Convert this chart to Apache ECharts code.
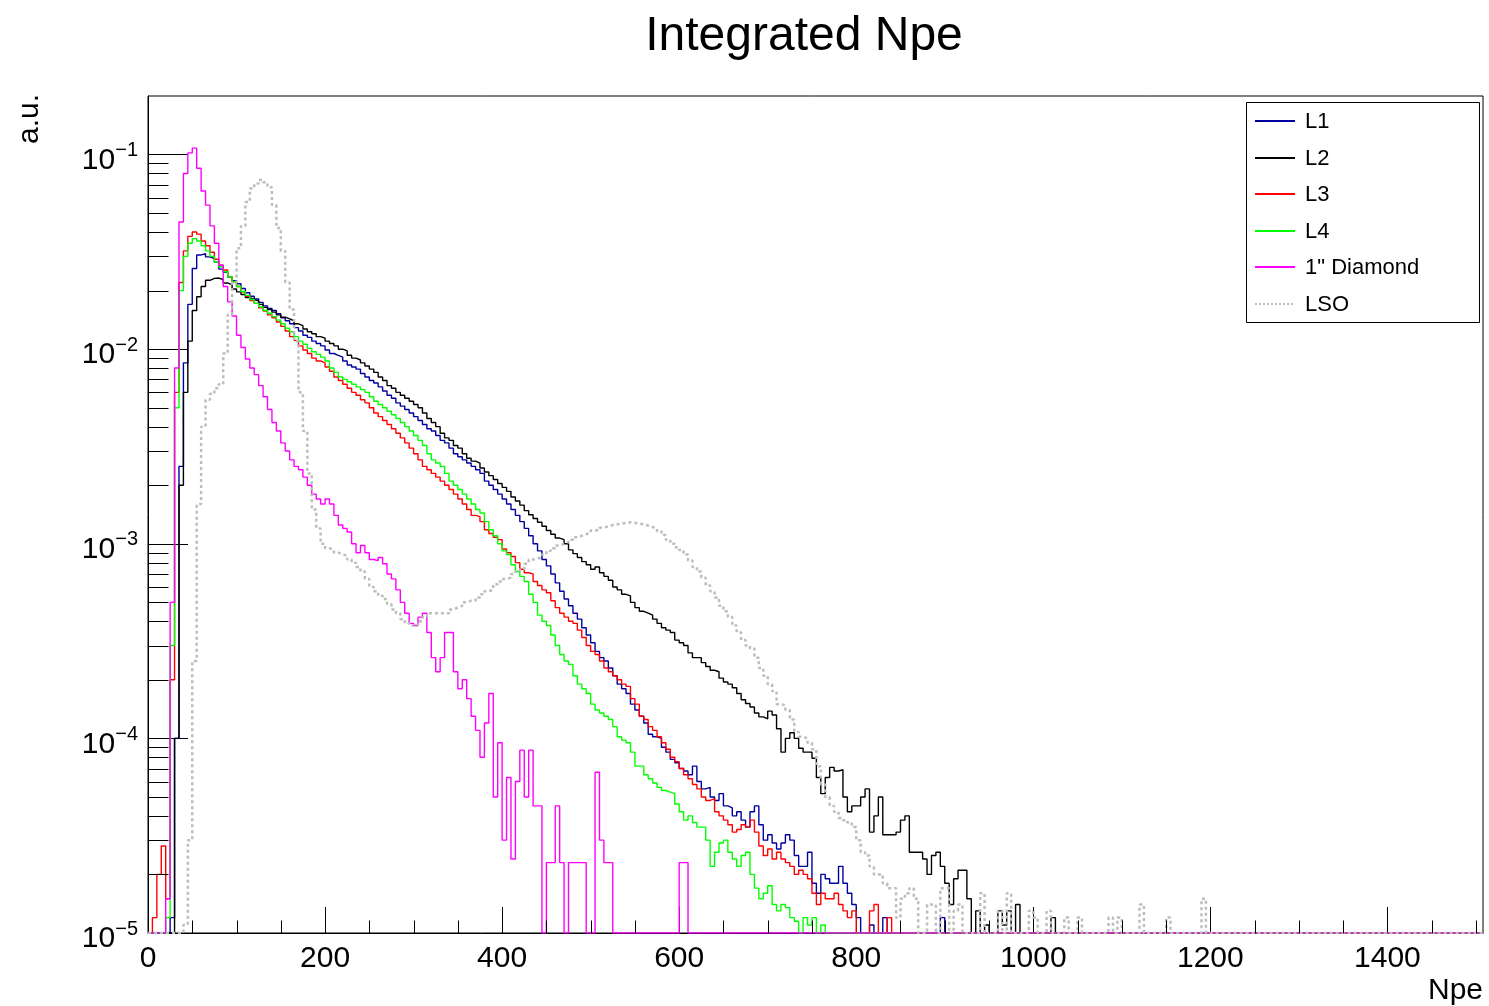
<!DOCTYPE html>
<html>
<head>
<meta charset="utf-8">
<script src="https://cdn.jsdelivr.net/npm/echarts@6.0.0/dist/echarts.min.js"></script>
<style>html,body{margin:0;padding:0;background:#fff}#chart{width:1489px;height:1006px}</style>
</head>
<body>
<div id="chart"></div>
<script>
// ---------------- data (histograms, 5 Npe per bin, first bin starts at Npe 0) ----------------
const BIN = 5;
const X_MIN = 0, X_MAX = 1508;
const Y_MIN = 1e-5, Y_MAX = 0.2;
const xTickLabels = [0, 200, 400, 600, 800, 1000, 1200, 1400];
const titleText = 'Integrated Npe';
const xTitle = 'Npe';
const yTitle = 'a.u.';
const seriesNames = ['L1', 'L2', 'L3', 'L4', '1" Diamond', 'LSO'];

const L1 = [
0,0,0,0,0,1.2e-5,1e-4,2.5e-3,8.5e-3,0.017,
0.026,0.0305,0.031,0.0298,0.0292,0.028,0.0258,0.0248,0.0235,0.0225,
0.0217,0.0205,0.0195,0.0187,0.0181,0.0174,0.0167,0.0162,0.0158,0.0152,
0.0145,0.014,0.0135,0.0129,0.0124,0.0118,0.0115,0.011,0.0107,0.0104,
0.0099,0.0095,0.0093,0.0091,0.0087,0.0083,0.0081,0.0079,0.0075,0.0072,
0.0069,0.0067,0.0064,0.0061,0.0058,0.0056,0.0053,0.0051,0.0049,0.0047,
0.0045,0.0043,0.0041,0.0039,0.0038,0.0036,0.0034,0.0033,0.0031,0.0029,
0.0028,0.0027,0.0026,0.0025,0.0024,0.0023,0.0021,0.0020,0.0019,0.0018,
0.0017,0.0016,0.0015,0.0014,0.0013,0.0012,0.0011,0.00100,0.00092,0.00083,
0.00077,0.00070,0.00063,0.00057,0.00052,0.00048,0.00044,0.00041,0.00037,0.00034,
0.00031,0.00028,0.00026,0.00025,0.00023,0.00021,0.00019,0.00018,0.00017,0.00015,
0.00014,0.00013,0.00012,0.000105,0.000102,0.0001,9.0e-5,8.5e-5,7.8e-5,7.5e-5,
7.0e-5,6.8e-5,6.5e-5,7.2e-5,6.0e-5,5.5e-5,5.6e-5,5.0e-5,4.8e-5,5.2e-5,
4.5e-5,4.4e-5,4.0e-5,4.2e-5,3.8e-5,3.5e-5,4.2e-5,4.5e-5,3.6e-5,3.0e-5,
3.2e-5,2.9e-5,2.7e-5,2.9e-5,3.2e-5,3.0e-5,2.5e-5,2.2e-5,2.2e-5,2.6e-5,
1.8e-5,1.6e-5,2.0e-5,1.9e-5,1.8e-5,1.8e-5,2.2e-5,1.8e-5,1.6e-5,1.4e-5,
1.2e-5,0,0,1.1e-5,0,0,1.2e-5,0,0,0,
0,0,0,0,0,0,0,0,0,1.2e-5
];

const L2 = [
0,0,0,0,0,0,1.0e-4,2.0e-3,6.0e-3,0.011,
0.0158,0.0186,0.021,0.0226,0.0231,0.0232,0.0228,0.0219,0.0214,0.0204,
0.0197,0.0191,0.0184,0.018,0.0177,0.017,0.0164,0.016,0.0155,0.015,
0.0146,0.0143,0.014,0.0135,0.0132,0.0127,0.0123,0.012,0.0116,0.0114,
0.011,0.0107,0.0104,0.0100,0.0098,0.0093,0.009,0.0088,0.0085,0.0082,
0.0079,0.0076,0.0072,0.0069,0.0065,0.0063,0.006,0.0058,0.0056,0.0054,
0.0052,0.0050,0.0047,0.0044,0.0042,0.0040,0.0037,0.0035,0.0034,0.0032,
0.0031,0.0029,0.00275,0.00266,0.0026,0.00245,0.00234,0.00224,0.00214,0.00204,
0.00195,0.00186,0.00174,0.00166,0.00158,0.00148,0.00141,0.00135,0.00129,0.00123,
0.00117,0.00112,0.00107,0.00105,0.001,0.00093,0.00089,0.00085,0.00081,0.00078,
0.00074,0.00076,0.00071,0.00068,0.00065,0.0006,0.00058,0.00055,0.00054,0.0005,
0.00047,0.00045,0.00044,0.00043,0.00041,0.00039,0.00037,0.00036,0.00035,0.00032,
0.00031,0.0003,0.000275,0.00026,0.00026,0.000245,0.000234,0.000224,0.00022,0.000204,
0.000195,0.00019,0.000182,0.00017,0.000158,0.000151,0.000145,0.000135,0.000129,0.000126,
0.000138,0.000132,0.000112,8.5e-5,1.0e-4,1.07e-4,1.0e-4,8.9e-5,8.5e-5,8.5e-5,
7.9e-5,6.3e-5,5.2e-5,6.3e-5,7.1e-5,6.8e-5,6.9e-5,5.0e-5,4.2e-5,4.5e-5,
4.5e-5,5.0e-5,5.5e-5,3.3e-5,4.0e-5,5.0e-5,3.2e-5,3.2e-5,3.2e-5,3.3e-5,
3.8e-5,4.0e-5,2.6e-5,2.6e-5,2.6e-5,2.4e-5,2.0e-5,2.5e-5,2.6e-5,2.2e-5,
1.8e-5,1.4e-5,1.9e-5,2.1e-5,2.1e-5,1.5e-5,0,1.3e-5,0,1.1e-5,
0,0,1.3e-5,1.1e-5,1.3e-5,0,1.4e-5,0,0,0,
0,0,0,0,1.2e-5
];

const L3 = [
0,1.2e-5,2.0e-5,2.8e-5,1.5e-5,2.0e-4,6.0e-3,0.022,0.032,0.038,
0.040,0.039,0.036,0.034,0.0315,0.029,0.027,0.0255,0.0235,0.0222,
0.021,0.0197,0.0187,0.0178,0.0172,0.0163,0.0157,0.015,0.0145,0.0138,
0.0131,0.0124,0.0116,0.0111,0.0104,0.0099,0.0095,0.009,0.0087,0.0085,
0.0081,0.0077,0.0072,0.0069,0.0066,0.0063,0.006,0.0058,0.0055,0.0053,
0.005,0.0047,0.0045,0.0043,0.0041,0.0039,0.0037,0.0035,0.0033,0.0031,
0.0029,0.0027,0.0025,0.0024,0.0023,0.0022,0.0021,0.002,0.0019,0.0018,
0.0017,0.0016,0.0015,0.0014,0.00138,0.0013,0.00118,0.00113,0.00108,0.00105,
0.00094,0.0009,0.00086,0.0008,0.00074,0.00071,0.0007,0.00064,0.00061,0.00058,
0.00056,0.00051,0.00047,0.00044,0.00042,0.0004,0.00039,0.00036,0.00033,0.0003,
0.00028,0.00027,0.00025,0.00023,0.00022,0.00021,0.0002,0.00019,0.000185,0.00016,
0.00015,0.00013,0.000125,0.000115,0.00011,0.000102,9.5e-5,8.8e-5,8.0e-5,7.6e-5,
7.0e-5,6.5e-5,6.2e-5,5.8e-5,5.5e-5,5.0e-5,4.8e-5,4.9e-5,4.2e-5,4.0e-5,
3.8e-5,3.6e-5,3.3e-5,3.4e-5,3.6e-5,3.5e-5,3.8e-5,3.3e-5,2.8e-5,2.5e-5,
2.7e-5,2.4e-5,2.6e-5,2.4e-5,2.3e-5,2.2e-5,2.0e-5,2.1e-5,2.0e-5,1.9e-5,
1.6e-5,1.4e-5,1.6e-5,1.5e-5,1.5e-5,1.6e-5,1.4e-5,1.3e-5,1.2e-5,1.3e-5,
0,0,0,1.3e-5,1.4e-5,0,0,1.2e-5
];

const L4 = [
0,0,0,0,1.2e-5,3.0e-4,5.0e-3,0.02,0.03,0.035,
0.037,0.036,0.034,0.032,0.030,0.028,0.0265,0.025,0.0235,0.0222,
0.021,0.0198,0.0189,0.018,0.0172,0.0165,0.0158,0.0153,0.0147,0.0141,
0.0135,0.0128,0.0123,0.0116,0.011,0.0106,0.0101,0.0097,0.0094,0.0091,
0.0087,0.008,0.0076,0.0072,0.007,0.0068,0.0066,0.0064,0.0062,0.006,
0.0057,0.0054,0.0052,0.005,0.0048,0.0046,0.0044,0.0042,0.004,0.0038,
0.0036,0.0034,0.0032,0.0029,0.0027,0.0026,0.0025,0.0023,0.0021,0.002,
0.0019,0.0018,0.0017,0.0016,0.0015,0.00144,0.0013,0.00118,0.0011,0.001,
0.00092,0.00088,0.00078,0.00072,0.00068,0.00064,0.00055,0.0005,0.00043,0.0004,
0.00038,0.00034,0.0003,0.00027,0.00025,0.00024,0.00021,0.00019,0.00018,0.00017,
0.00015,0.00014,0.000135,0.00013,0.000125,0.000115,0.000102,9.8e-5,9.5e-5,8.5e-5,
7.2e-5,7.2e-5,6.5e-5,6.2e-5,5.9e-5,5.6e-5,5.4e-5,5.3e-5,5.2e-5,4.6e-5,
4.2e-5,3.8e-5,4.0e-5,3.7e-5,3.5e-5,3.5e-5,3.0e-5,2.2e-5,2.6e-5,2.9e-5,
3.0e-5,2.6e-5,2.4e-5,2.2e-5,2.5e-5,2.6e-5,2.0e-5,1.7e-5,1.5e-5,1.6e-5,
1.75e-5,1.4e-5,1.3e-5,1.4e-5,1.35e-5,1.2e-5,1.15e-5,0,1.2e-5,1.1e-5,
1.2e-5,0,1.1e-5
];

const Diamond = [
0,0,0,0,1.5e-5,5.0e-4,8.0e-3,0.045,0.08,0.102,
0.108,0.085,0.065,0.055,0.043,0.035,0.027,0.021,0.0175,0.0148,
0.0118,0.0102,0.0089,0.008,0.0074,0.0065,0.0057,0.0049,0.0042,0.0038,
0.0033,0.003,0.0027,0.0025,0.0024,0.0022,0.002,0.0018,0.0017,0.0016,
0.0017,0.0016,0.0014,0.00125,0.0012,0.00115,0.001,0.0009,0.00098,0.0009,
0.00083,0.00082,0.00085,0.00079,0.0007,0.00066,0.00058,0.0005,0.00044,0.00039,
0.00038,0.00042,0.00044,0.00035,0.00026,0.00022,0.00026,0.00035,0.00035,0.00022,
0.00018,0.0002,0.00016,0.00013,0.00011,8e-5,0.00012,0.00017,5e-5,9.5e-5,
3e-5,6.3e-5,2.4e-5,6e-5,8.7e-5,5e-5,8.7e-5,4.5e-5,4.5e-5,0,
2.3e-5,2.3e-5,4.5e-5,2.3e-5,0,2.3e-5,2.3e-5,2.3e-5,2.3e-5,0,
0,6.7e-5,3e-5,2.3e-5,2.3e-5,0,0,0,0,0,
0,0,0,0,0,0,0,0,0,0,
2.3e-5,2.3e-5
];

const LSO = [
0,0,0,0,0,0,0,0,1.1e-5,3.0e-5,
2.5e-4,1.6e-3,4.0e-3,5.5e-3,5.9e-3,6.3e-3,6.6e-3,0.0095,0.015,0.022,
0.033,0.043,0.057,0.067,0.071,0.074,0.072,0.068,0.055,0.042,
0.032,0.022,0.016,0.011,0.006,0.0038,0.0023,0.0015,0.0012,0.001,
0.00095,0.00093,0.0009,0.00088,0.00087,0.00083,0.0008,0.00076,0.00072,0.00066,
0.0006,0.00057,0.00054,0.00052,0.00049,0.00046,0.00044,0.00041,0.00039,0.00038,
0.00038,0.0004,0.00042,0.00044,0.00044,0.00044,0.00044,0.00044,0.00046,0.00047,
0.00048,0.0005,0.00051,0.00051,0.00053,0.00055,0.00057,0.00058,0.00062,0.00064,
0.00066,0.00067,0.0007,0.00072,0.00074,0.00079,0.00083,0.00084,0.00085,0.00088,
0.00092,0.00095,0.00098,0.001,0.00102,0.00105,0.00108,0.0011,0.00112,0.00114,
0.00117,0.00118,0.00121,0.00123,0.00125,0.00126,0.00127,0.00128,0.00129,0.00128,
0.00127,0.00126,0.00124,0.00122,0.0012,0.00116,0.00111,0.00105,0.001,0.00096,
0.00093,0.00088,0.00082,0.00076,0.00072,0.00067,0.00061,0.00057,0.00053,0.00048,
0.00045,0.00042,0.00038,0.00035,0.00032,0.0003,0.00029,0.00026,0.00023,0.00021,
0.00019,0.000175,0.00015,0.000148,0.00014,0.000125,0.000108,0.000102,0.0001,9.5e-5,
8.8e-5,7.2e-5,5.8e-5,5.0e-5,4.5e-5,4.2e-5,3.9e-5,3.8e-5,3.7e-5,3.5e-5,
3.0e-5,2.6e-5,2.5e-5,2.2e-5,2.0e-5,2.0e-5,1.8e-5,1.7e-5,1.7e-5,1.2e-5,
1.5e-5,1.6e-5,1.7e-5,1.5e-5,0,0,1.4e-5,1.4e-5,0,1.7e-5,
1.7e-5,0,1.3e-5,1.4e-5,0,0,0,0,1.6e-5,0,
0,0,1.3e-5,0,1.6e-5,0,0,0,0,1.3e-5,
1.2e-5,0,0,1.3e-5,0,0,0,1.2e-5,0,0,
1.2e-5,0,0,0,0,0,0,1.2e-5,0,1.2e-5,
0,0,0,0,1.4e-5,0,0,0,0,0,
1.2e-5,0,0,0,0,0,0,0,1.5e-5
];

// ---------------- styling ----------------
const FONT = '"Liberation Sans", Arial, Helvetica, sans-serif';
const seriesColors = ['#0000a0', '#000000', '#ff0000', '#00ff00', '#ff00ff', '#bdbdbd'];
const seriesData = [L1, L2, L3, L4, Diamond, LSO];

// histogram -> step polyline points (empty bins sit on the lower frame like ROOT)
function histPoints(arr) {
  const pts = arr.map((v, i) => [i * BIN, v > 0 ? v : Y_MIN]);
  pts.push([arr.length * BIN, Y_MIN]);
  pts.push([X_MAX, Y_MIN]);
  return pts;
}

// minor ticks positions (axis decoration)
const xMinor = [];
for (let v = 50; v < X_MAX; v += 50) if (v % 200 !== 0) xMinor.push([v, Y_MIN]);
const yMinor = [];
for (let e = -5; e <= -2; e++) for (let k = 2; k <= 9; k++) yMinor.push([X_MIN, k * Math.pow(10, e)]);

const lineSeries = seriesNames.map((name, idx) => ({
  name: name,
  type: 'line',
  step: 'end',
  data: histPoints(seriesData[idx]),
  symbol: 'none',
  showSymbol: false,
  clip: true,
  z: 2 + idx,
  lineStyle: idx === 5
    ? { color: seriesColors[idx], width: 2.5, type: [3, 3] }
    : { color: seriesColors[idx], width: 1.4 },
  emphasis: { disabled: true },
  silent: true
}));

function tickRenderer(dx, dy) {
  return function (params, api) {
    const p = api.coord([api.value(0), api.value(1)]);
    const x = Math.round(p[0]) + 0.5, y = Math.round(p[1]) + 0.5;
    return {
      type: 'line',
      shape: { x1: x, y1: y, x2: x + dx, y2: y + dy },
      style: { stroke: '#000', lineWidth: 1 }
    };
  };
}

const chart = echarts.init(document.getElementById('chart'), null, { renderer: 'canvas' });

// legend drawn as in ROOT's TLegend
const legendX = 1246, legendY = 102, legendW = 233, legendH = 220;
const legendElems = [{
  type: 'rect', shape: { x: legendX + 0.5, y: legendY + 0.5, width: legendW, height: legendH },
  style: { fill: '#fff', stroke: '#000', lineWidth: 1 }, z: 100
}];
seriesNames.forEach((name, i) => {
  const cy = legendY + 19 + i * 36.6;
  legendElems.push({
    type: 'line', shape: { x1: legendX + 9, y1: Math.round(cy), x2: legendX + 49, y2: Math.round(cy) },
    style: i === 5
      ? { stroke: seriesColors[i], lineWidth: 2, lineDash: [2, 2], fill: null }
      : { stroke: seriesColors[i], lineWidth: 2, fill: null },
    z: 101
  });
  legendElems.push({
    type: 'text', x: legendX + 59, y: cy + 1,
    style: { text: name, fill: '#000', font: '22px ' + FONT, textAlign: 'left', textVerticalAlign: 'middle' },
    z: 101
  });
});

const option = {
  animation: false,
  backgroundColor: '#ffffff',
  grid: { left: 148, right: 6, top: 96, bottom: 73, show: true, borderColor: '#000', borderWidth: 1, containLabel: false, outerBoundsMode: 'none' },
  xAxis: {
    type: 'value', min: X_MIN, max: X_MAX, interval: 200,
    axisLine: { show: true, onZero: false, lineStyle: { color: '#000', width: 1 } },
    axisTick: { show: true, inside: true, length: 26, lineStyle: { color: '#000' } },
    minorTick: { show: false },
    splitLine: { show: false },
    axisLabel: {
      show: true, showMaxLabel: false, margin: 11, color: '#000', fontSize: 30, fontFamily: FONT,
      formatter: v => (xTickLabels.indexOf(v) >= 0 ? String(v) : '')
    }
  },
  yAxis: {
    type: 'log', logBase: 10, min: Y_MIN, max: Y_MAX,
    axisLine: { show: true, lineStyle: { color: '#000', width: 1 } },
    axisTick: { show: true, inside: true, length: 40, lineStyle: { color: '#000' } },
    splitLine: { show: false },
    minorTick: { show: false },
    axisLabel: {
      show: true, showMaxLabel: false, margin: 10, color: '#000', fontFamily: FONT,
      padding: [12, 0, 0, 0],
      formatter: function (v) {
        const e = Math.round(Math.log10(v));
        return '{b|10}{e|\u2212' + Math.abs(e) + '}';
      },
      rich: {
        b: { fontSize: 30, fontFamily: FONT, color: '#000', lineHeight: 40 },
        e: { fontSize: 20, fontFamily: FONT, color: '#000', lineHeight: 20, verticalAlign: 'top' }
      }
    }
  },
  series: lineSeries.concat([
    { type: 'custom', name: 'xMinorTicks', data: xMinor, renderItem: tickRenderer(0, -13), clip: false, silent: true, z: 20 },
    { type: 'custom', name: 'yMinorTicks', data: yMinor, renderItem: tickRenderer(20, 0), clip: false, silent: true, z: 20 }
  ]),
  graphic: [
    { type: 'text', x: 804, y: 37, style: { text: titleText, fill: '#000', font: '48px ' + FONT, textAlign: 'center', textVerticalAlign: 'middle' }, z: 100 },
    { type: 'text', x: 1483, y: 991, style: { text: xTitle, fill: '#000', font: '30px ' + FONT, textAlign: 'right', textVerticalAlign: 'middle' }, z: 100 },
    { type: 'text', x: 30, y: 94, rotation: Math.PI / 2, style: { text: yTitle, fill: '#000', font: '30px ' + FONT, textAlign: 'right', textVerticalAlign: 'middle' }, z: 100 }
  ].concat(legendElems)
};
chart.setOption(option);
</script>
</body>
</html>
